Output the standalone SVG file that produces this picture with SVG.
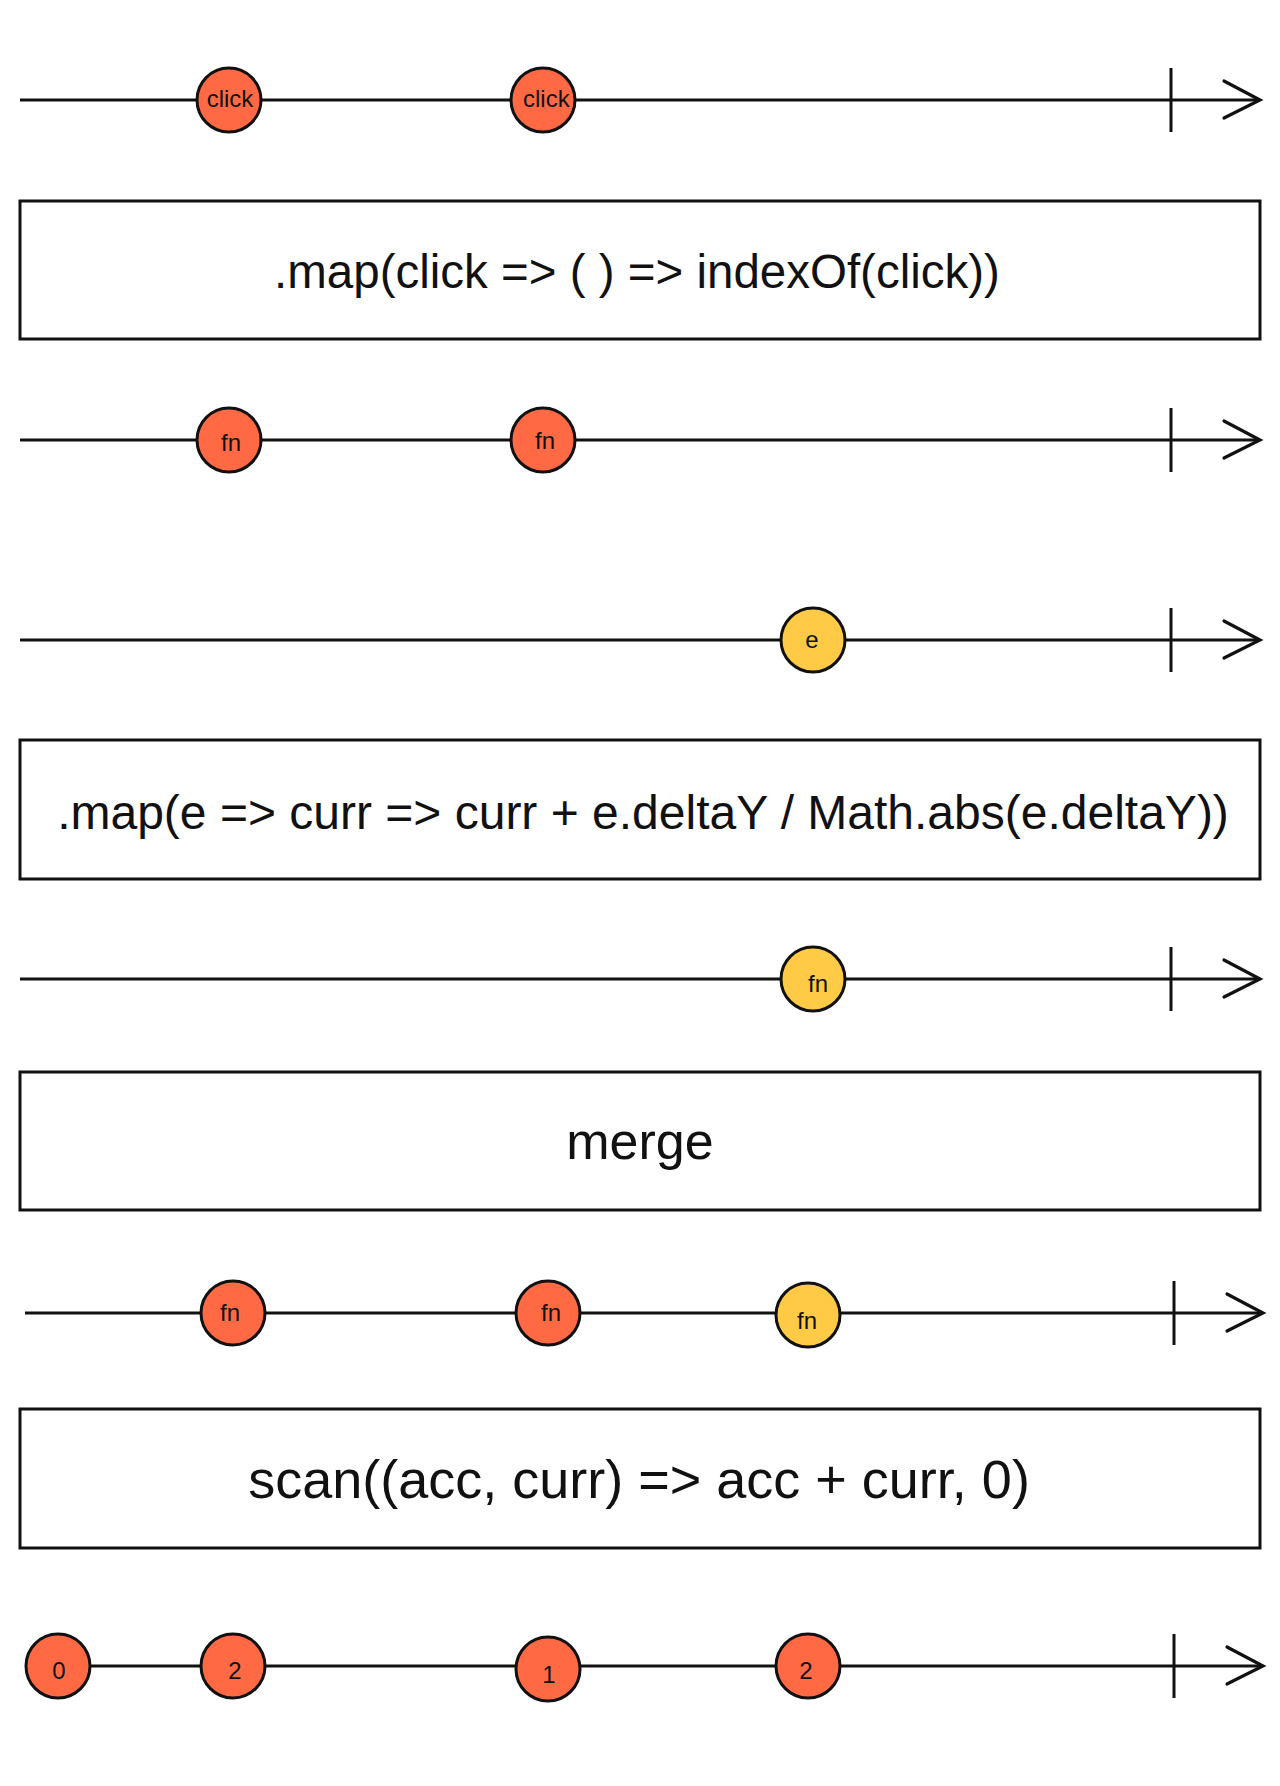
<svg xmlns="http://www.w3.org/2000/svg" width="1280" height="1786" viewBox="0 0 1280 1786">
<style>
.tl{stroke:#111;stroke-width:3;fill:none}
.ar{stroke:#111;stroke-width:3.2;fill:none;stroke-linecap:round;stroke-linejoin:miter}
.tk{stroke:#111;stroke-width:3}
.o{fill:#FF6A45;stroke:#111;stroke-width:3}
.y{fill:#FFCB47;stroke:#111;stroke-width:3}
.lb{font-family:"Liberation Sans",Arial,sans-serif;font-size:24px;fill:#111;text-anchor:middle}
.box{fill:#fff;stroke:#111;stroke-width:3}
.bt{font-family:"Liberation Sans",Arial,sans-serif;fill:#111;text-anchor:middle}
</style>
<rect width="1280" height="1786" fill="#fff"/>
<g id="connectors">
  <g id="timeline1"><line class="tl" x1="20" y1="100" x2="1259" y2="100"/><line class="tk" x1="1171" y1="68" x2="1171" y2="132"/><polyline class="ar" points="1224,81 1260,100 1224,118"/></g>
  <g id="timeline2"><line class="tl" x1="20" y1="440" x2="1259" y2="440"/><line class="tk" x1="1171" y1="408" x2="1171" y2="472"/><polyline class="ar" points="1224,421 1260,440 1224,458"/></g>
  <g id="timeline3"><line class="tl" x1="20" y1="640" x2="1259" y2="640"/><line class="tk" x1="1171" y1="608" x2="1171" y2="672"/><polyline class="ar" points="1224,621 1260,640 1224,658"/></g>
  <g id="timeline4"><line class="tl" x1="20" y1="979" x2="1259" y2="979"/><line class="tk" x1="1171" y1="947" x2="1171" y2="1011"/><polyline class="ar" points="1224,960 1260,979 1224,997"/></g>
  <g id="timeline5"><line class="tl" x1="25" y1="1313" x2="1262" y2="1313"/><line class="tk" x1="1174" y1="1281" x2="1174" y2="1345"/><polyline class="ar" points="1227,1294 1263,1313 1227,1331"/></g>
  <g id="timeline6"><line class="tl" x1="25" y1="1666" x2="1262" y2="1666"/><line class="tk" x1="1174" y1="1634" x2="1174" y2="1698"/><polyline class="ar" points="1227,1647 1263,1666 1227,1684"/></g>
</g>
<g id="click1"><circle class="o" cx="229" cy="100" r="32"/><text class="lb" x="230" y="107">click</text></g>
<g id="click2"><circle class="o" cx="543" cy="100" r="32"/><text class="lb" x="523" y="107" style="text-anchor:start">click</text></g>
<g id="box-map-click"><rect class="box" x="20" y="201" width="1240" height="138"/><text class="bt" x="637" y="288" font-size="47.5">.map(click =&gt; ( ) =&gt; indexOf(click))</text></g>
<g id="fn1"><circle class="o" cx="229" cy="440" r="32"/><text class="lb" x="231" y="451">fn</text></g>
<g id="fn2"><circle class="o" cx="543" cy="440" r="32"/><text class="lb" x="545" y="449">fn</text></g>
<g id="e1"><circle class="y" cx="813" cy="640" r="32"/><text class="lb" x="812" y="648">e</text></g>
<g id="box-map-e"><rect class="box" x="20" y="740" width="1240" height="139"/><text class="bt" x="643" y="829" font-size="48">.map(e =&gt; curr =&gt; curr + e.deltaY / Math.abs(e.deltaY))</text></g>
<g id="fn3"><circle class="y" cx="813" cy="979" r="32"/><text class="lb" x="818" y="992">fn</text></g>
<g id="box-merge"><rect class="box" x="20" y="1072" width="1240" height="138"/><text class="bt" x="640" y="1159" font-size="52">merge</text></g>
<g id="m-fn1"><circle class="o" cx="233" cy="1313" r="32"/><text class="lb" x="230" y="1321">fn</text></g>
<g id="m-fn2"><circle class="o" cx="548" cy="1313" r="32"/><text class="lb" x="551" y="1321">fn</text></g>
<g id="m-fn3"><circle class="y" cx="808" cy="1315" r="32"/><text class="lb" x="807" y="1329">fn</text></g>
<g id="box-scan"><rect class="box" x="20" y="1409" width="1240" height="139"/><text class="bt" x="639" y="1498" font-size="54">scan((acc, curr) =&gt; acc + curr, 0)</text></g>
<g id="s0"><circle class="o" cx="58" cy="1666" r="32"/><text class="lb" x="59" y="1679">0</text></g>
<g id="s2a"><circle class="o" cx="233" cy="1666" r="32"/><text class="lb" x="235" y="1679">2</text></g>
<g id="s1"><circle class="o" cx="548" cy="1669" r="32"/><text class="lb" x="549" y="1683">1</text></g>
<g id="s2b"><circle class="o" cx="808" cy="1666" r="32"/><text class="lb" x="806" y="1679">2</text></g>
</svg>
